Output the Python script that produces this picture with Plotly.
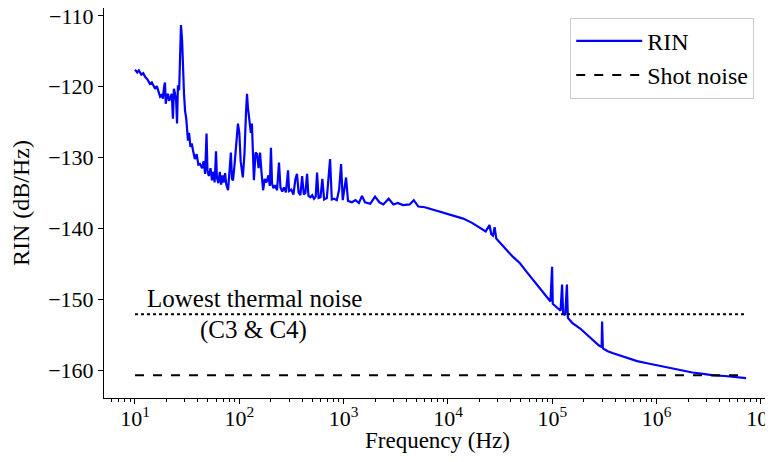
import numpy as np
import plotly.graph_objects as go

# RIN spectrum (frequency in Hz, level in dB/Hz)
freq = [10, 10.5, 10.9, 11.5, 12.0, 12.5, 13.2, 13.9, 14.5, 15.1, 15.6, 16.2, 16.8, 17.4,
        18.0, 18.5, 19.0, 19.4, 19.7, 20.2, 20.7, 21.2, 21.7, 22.5, 23.1, 23.6, 24.2, 24.8,
        25.3, 25.8, 26.5, 27.0, 27.6, 28.3, 28.8, 29.5, 30.2, 31.0, 32.2, 33.0, 34.0, 35.0,
        36.0, 37.5, 39.0, 40.5, 42.0, 44.0, 45.5, 47.0, 48.5, 49.5, 51.0, 53.0, 54.7, 56.5,
        58.0, 59.8, 61.0, 63.0, 65.0, 67.0, 69.0, 71.0, 73.0, 75.0, 78.0, 80.0, 83.0, 85.0,
        87.0, 90.0, 94.0, 97.0, 100.0, 103.0, 108.0, 112.0, 116.0, 118.5, 121.0, 125.0, 129.0,
        132.0, 135.0, 138.0, 143.0, 148.0, 153.0, 158.0, 163.0, 169.0, 175.0, 182.0, 190.0,
        196.0, 201.0, 206.0, 212.0, 220.0, 230.0, 240.0, 248.0, 258.0, 268.0, 280.0, 293.0,
        300.0, 315.0, 330.0, 345.0, 357.0, 370.0, 385.0, 400.0, 415.0, 430.0, 446.0, 460.0,
        480.0, 500.0, 520.0, 540.0, 556.0, 575.0, 600.0, 625.0, 650.0, 690.0, 741.0, 770.0,
        810.0, 860.0, 905.0, 945.0, 980.0, 1055.0, 1100.0, 1200.0, 1300.0, 1400.0, 1500.0,
        1600.0, 1800.0, 2000.0, 2200.0, 2400.0, 2700.0, 3000.0, 3300.0, 3700.0, 4300.0,
        4700.0, 5200.0, 6000.0, 6700.0, 8000.0, 9800.0, 12000.0, 14000.0, 17000.0, 20300.0,
        23000.0, 25000.0, 26000.0, 27000.0, 28000.0, 29000.0, 33000.0, 36850.0, 42000.0,
        49000.0, 56000.0, 65500.0, 77000.0, 89000.0, 96000.0, 99500.0, 101000.0, 110000.0,
        120000.0, 124000.0, 127000.0, 133000.0, 138000.0, 141000.0, 155000.0, 185000.0,
        215000.0, 246000.0, 280000.0, 297000.0, 300000.0, 305000.0, 340000.0, 383000.0,
        500000.0, 650000.0, 810000.0, 1.1e6, 1.4e6, 1.7e6, 2.2e6, 2.8e6, 3.5e6, 4.5e6,
        5.5e6, 7.2e6]
rin = [-117.6, -118.0, -117.7, -118.3, -118.1, -118.6, -119.0, -119.6, -119.4, -120.0,
       -120.3, -119.9, -120.9, -121.4, -121.2, -121.7, -120.0, -119.4, -122.4, -121.3,
       -121.0, -122.0, -121.6, -121.0, -124.5, -120.3, -121.0, -122.0, -125.2, -119.8,
       -120.5, -116.0, -111.3, -113.5, -118.0, -121.0, -123.4, -124.5, -127.6, -126.5,
       -128.5, -128.0, -129.0, -130.2, -129.5, -131.0, -130.9, -131.5, -130.5, -132.3,
       -126.6, -131.8, -132.6, -131.5, -133.2, -132.0, -133.5, -129.1, -132.8, -133.6,
       -132.0, -133.8, -132.5, -133.5, -132.2, -133.8, -134.6, -132.4, -129.3, -133.0,
       -133.2, -131.0, -127.0, -125.2, -126.5, -130.5, -132.8, -129.5, -123.5, -121.0,
       -123.0, -124.5, -126.5, -125.2, -130.0, -133.2, -129.3, -129.5, -131.5, -129.3,
       -132.0, -134.6, -133.0, -133.5, -132.5, -134.0, -128.6, -133.7, -134.3, -133.9,
       -134.6, -130.7, -134.2, -134.8, -134.2, -134.9, -131.8, -134.7, -134.5, -135.2,
       -133.0, -132.3, -134.9, -135.3, -132.6, -135.2, -135.0, -132.3, -135.4, -135.6,
       -135.3, -135.8, -135.5, -132.1, -135.7, -135.6, -133.0, -135.9, -135.7, -130.2,
       -135.9, -135.8, -136.0, -134.5, -130.9, -136.0, -132.8, -136.1, -136.3, -136.0,
       -136.4, -135.4, -136.3, -136.5, -135.5, -136.3, -136.6, -135.8, -136.6, -136.4,
       -136.7, -136.6, -136.0, -136.9, -137.0, -137.2, -137.5, -137.9, -138.3, -138.6,
       -139.2, -139.9, -140.4, -139.5, -140.8, -141.0, -139.8, -141.4, -142.4, -143.1,
       -144.0, -144.9, -146.0, -147.3, -148.5, -149.7, -150.3, -145.4, -150.6, -151.1,
       -151.6, -147.9, -152.0, -152.2, -147.9, -152.6, -153.3, -154.1, -155.0, -155.8,
       -156.5, -156.7, -153.1, -156.9, -157.3, -157.6, -158.2, -158.7, -159.0, -159.4,
       -159.8, -160.0, -160.3, -160.5, -160.7, -160.8, -160.9, -161.1]

# reference levels
level_freq = [10, 7e6]
shot_noise = -160.7
thermal_noise = -152.1

x_tickvals = [1e1, 1e2, 1e3, 1e4, 1e5, 1e6, 1e7]
x_ticktext = ["10<sup>1</sup>", "10<sup>2</sup>", "10<sup>3</sup>", "10<sup>4</sup>",
              "10<sup>5</sup>", "10<sup>6</sup>", "10<sup>7</sup>"]
y_tickvals = [-160, -150, -140, -130, -120, -110]

minor_vals = [d * 10 ** e for e in range(0, 8) for d in range(2, 10)]

font = "Liberation Serif"

fig = go.Figure()
fig.add_trace(go.Scatter(x=freq, y=rin, mode="lines", name="RIN",
                         line=dict(color="#0000ff", width=2.2)))
fig.add_trace(go.Scatter(x=level_freq, y=[shot_noise] * 2, mode="lines", name="Shot noise",
                         line=dict(color="black", width=2, dash="dash")))
fig.add_trace(go.Scatter(x=level_freq, y=[thermal_noise] * 2, mode="lines", showlegend=False,
                         line=dict(color="black", width=2, dash="dot")))

fig.add_annotation(x=np.log10(140), y=-149.9, text="Lowest thermal noise", showarrow=False,
                   font=dict(size=25, color="black", family=font))
fig.add_annotation(x=np.log10(138), y=-154.3, text="(C3 &amp; C4)", showarrow=False,
                   font=dict(size=25, color="black", family=font))
# x axis title, placed as an annotation so it can sit close to the tick labels
fig.add_annotation(x=0.5, y=-0.108, xref="paper", yref="paper", text="Frequency (Hz)",
                   showarrow=False, yanchor="middle",
                   font=dict(size=23, color="black", family=font))

axis_common = dict(showline=True, linecolor="black", linewidth=1, mirror=True,
                   showgrid=False, zeroline=False, ticks="outside", ticklen=5,
                   tickcolor="black", automargin=False, ticklabeloverflow="allow",
                   tickfont=dict(size=22, color="black", family=font))

fig.update_xaxes(type="log", range=[0.703, 7.096], tickmode="array",
                 tickvals=x_tickvals, ticktext=x_ticktext, ticklabelstandoff=-4,
                 minor=dict(tickmode="array", tickvals=minor_vals, ticks="outside",
                            ticklen=3, tickcolor="black"),
                 **axis_common)
fig.update_yaxes(range=[-163.9, -108.9], tickmode="array", tickvals=y_tickvals,
                 title=dict(text="RIN (dB/Hz)", font=dict(size=24, color="black", family=font),
                            standoff=12),
                 **axis_common)

# the page body adds an 8px margin, so the figure is sized to fit the window after it
fig.update_layout(
    width=765, height=454,
    margin=dict(l=96, r=2, t=0, b=64),
    plot_bgcolor="white", paper_bgcolor="white",
    font=dict(family=font, color="black"),
    legend=dict(x=0.699, y=0.975, xanchor="left", yanchor="top", itemwidth=66,
                bgcolor="white", bordercolor="#cccccc", borderwidth=1,
                font=dict(size=24, color="black", family=font)),
)

fig.write_html("out.html")
